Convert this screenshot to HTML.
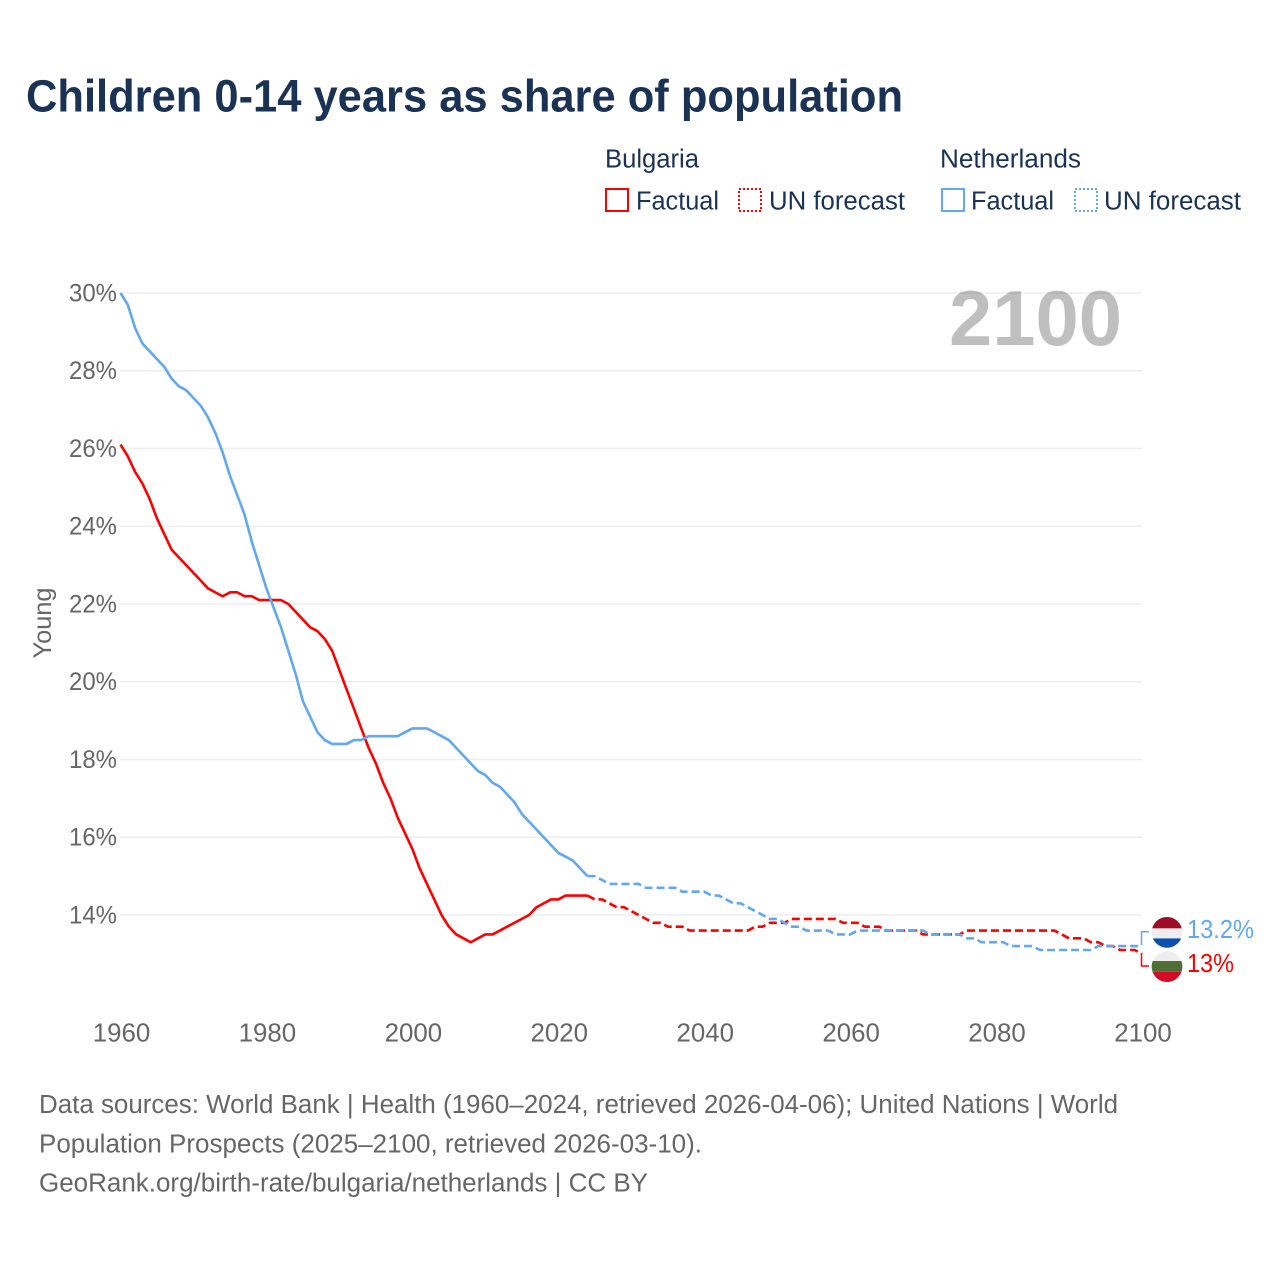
<!DOCTYPE html>
<html lang="en">
<head>
<meta charset="utf-8">
<title>Children 0-14 years as share of population</title>
<style>
html,body{margin:0;padding:0;background:#fff;width:1280px;height:1280px;overflow:hidden}
svg{display:block}
text{font-family:"Liberation Sans",sans-serif}
</style>
</head>
<body>
<svg id="chart" xmlns="http://www.w3.org/2000/svg" width="1280" height="1280" viewBox="0 0 1280 1280">
  <defs>
    <clipPath id="clip-nl"><circle cx="1167" cy="932.4" r="15.4"/></clipPath>
    <clipPath id="clip-bg"><circle cx="1167" cy="966.6" r="15.4"/></clipPath>
  </defs>
  <rect x="0" y="0" width="1280" height="1280" fill="#ffffff"/>
  <text x="26" y="111.5" font-size="45.5" font-weight="700" fill="#1a3254" textLength="877" lengthAdjust="spacingAndGlyphs">Children 0-14 years as share of population</text>

  <g>
    <text x="605" y="167.5" font-size="25.5" fill="#1a3254" textLength="94" lengthAdjust="spacingAndGlyphs">Bulgaria</text>
    <text x="940" y="167.5" font-size="25.5" fill="#1a3254" textLength="141" lengthAdjust="spacingAndGlyphs">Netherlands</text>
    <rect x="606" y="189" width="22" height="22" fill="none" stroke="#ff0000" stroke-width="2"/>
    <text x="636" y="209.5" font-size="25.5" fill="#1a3254" textLength="83" lengthAdjust="spacingAndGlyphs">Factual</text>
    <rect x="739" y="189" width="22" height="22" fill="none" stroke="#ff0000" stroke-width="2" stroke-dasharray="2 2"/>
    <text x="769" y="209.5" font-size="25.5" fill="#1a3254" textLength="136" lengthAdjust="spacingAndGlyphs">UN forecast</text>
    <rect x="942" y="189" width="22" height="22" fill="none" stroke="#62a8ee" stroke-width="2"/>
    <text x="971" y="209.5" font-size="25.5" fill="#1a3254" textLength="83" lengthAdjust="spacingAndGlyphs">Factual</text>
    <rect x="1075" y="189" width="22" height="22" fill="none" stroke="#62a8ee" stroke-width="2" stroke-dasharray="2 2"/>
    <text x="1104" y="209.5" font-size="25.5" fill="#1a3254" textLength="137" lengthAdjust="spacingAndGlyphs">UN forecast</text>
  </g>

  <g id="grid"></g>
  <g id="y-ticks"></g>
  <g id="x-ticks"></g>
  <text transform="translate(51,623) rotate(-90)" text-anchor="middle" font-size="25" fill="#666666" textLength="71" lengthAdjust="spacingAndGlyphs">Young</text>
  <text x="1122" y="345" text-anchor="end" font-size="78" font-weight="700" fill="#000000" fill-opacity="0.25" textLength="173" lengthAdjust="spacingAndGlyphs">2100</text>
  <g id="series"></g>

  <g>
    <path d="M1141.5 945V931.7H1149" fill="none" stroke="#62a8ee" stroke-width="1.5"/>
    <path d="M1141.5 953V966H1149" fill="none" stroke="#ff0000" stroke-width="1.5"/>
    <g clip-path="url(#clip-nl)">
      <rect x="1150" y="916" width="34" height="12.4" fill="#9e0b24"/>
      <rect x="1150" y="928.4" width="34" height="10" fill="#eeeeee"/>
      <rect x="1150" y="938.4" width="34" height="11" fill="#0a50ae"/>
    </g>
    <g clip-path="url(#clip-bg)">
      <rect x="1150" y="950" width="34" height="11" fill="#eeeeee"/>
      <rect x="1150" y="961" width="34" height="10.8" fill="#4f6e33"/>
      <rect x="1150" y="971.8" width="34" height="12" fill="#d30a26"/>
    </g>
    <text x="1187" y="938" font-size="25.5" fill="#62a8ee" textLength="67" lengthAdjust="spacingAndGlyphs">13.2%</text>
    <text x="1187" y="972" font-size="25.5" fill="#ff0000" textLength="47" lengthAdjust="spacingAndGlyphs">13%</text>
  </g>

  <g>
    <text x="39" y="1113" font-size="25.5" fill="#666666" textLength="1079" lengthAdjust="spacingAndGlyphs">Data sources: World Bank | Health (1960–2024, retrieved 2026-04-06); United Nations | World</text>
    <text x="39" y="1152.5" font-size="25.5" fill="#666666" textLength="663" lengthAdjust="spacingAndGlyphs">Population Prospects (2025–2100, retrieved 2026-03-10).</text>
    <text x="39" y="1191.5" font-size="25.5" fill="#666666" textLength="609" lengthAdjust="spacingAndGlyphs">GeoRank.org/birth-rate/bulgaria/netherlands | CC BY</text>
  </g>
</svg>
<script>
const years = [
  1960,1961,1962,1963,1964,1965,1966,1967,1968,1969,
  1970,1971,1972,1973,1974,1975,1976,1977,1978,1979,
  1980,1981,1982,1983,1984,1985,1986,1987,1988,1989,
  1990,1991,1992,1993,1994,1995,1996,1997,1998,1999,
  2000,2001,2002,2003,2004,2005,2006,2007,2008,2009,
  2010,2011,2012,2013,2014,2015,2016,2017,2018,2019,
  2020,2021,2022,2023,2024,2025,2026,2027,2028,2029,
  2030,2031,2032,2033,2034,2035,2036,2037,2038,2039,
  2040,2041,2042,2043,2044,2045,2046,2047,2048,2049,
  2050,2051,2052,2053,2054,2055,2056,2057,2058,2059,
  2060,2061,2062,2063,2064,2065,2066,2067,2068,2069,
  2070,2071,2072,2073,2074,2075,2076,2077,2078,2079,
  2080,2081,2082,2083,2084,2085,2086,2087,2088,2089,
  2090,2091,2092,2093,2094,2095,2096,2097,2098,2099,
  2100
];
const bulgariaValues = [
  26.1,25.8,25.4,25.1,24.7,24.2,23.8,23.4,23.2,23.0,
  22.8,22.6,22.4,22.3,22.2,22.3,22.3,22.2,22.2,22.1,
  22.1,22.1,22.1,22.0,21.8,21.6,21.4,21.3,21.1,20.8,
  20.3,19.8,19.3,18.8,18.3,17.9,17.4,17.0,16.5,16.1,
  15.7,15.2,14.8,14.4,14.0,13.7,13.5,13.4,13.3,13.4,
  13.5,13.5,13.6,13.7,13.8,13.9,14.0,14.2,14.3,14.4,
  14.4,14.5,14.5,14.5,14.5,14.4,14.4,14.3,14.2,14.2,
  14.1,14.0,13.9,13.8,13.8,13.7,13.7,13.7,13.6,13.6,
  13.6,13.6,13.6,13.6,13.6,13.6,13.6,13.7,13.7,13.8,
  13.8,13.8,13.9,13.9,13.9,13.9,13.9,13.9,13.9,13.8,
  13.8,13.8,13.7,13.7,13.7,13.6,13.6,13.6,13.6,13.6,
  13.5,13.5,13.5,13.5,13.5,13.5,13.6,13.6,13.6,13.6,
  13.6,13.6,13.6,13.6,13.6,13.6,13.6,13.6,13.6,13.5,
  13.4,13.4,13.4,13.3,13.3,13.2,13.2,13.1,13.1,13.1,
  13.0
];
const netherlandsValues = [
  30.0,29.7,29.1,28.7,28.5,28.3,28.1,27.8,27.6,27.5,
  27.3,27.1,26.8,26.4,25.9,25.3,24.8,24.3,23.6,23.0,
  22.4,21.9,21.4,20.8,20.2,19.5,19.1,18.7,18.5,18.4,
  18.4,18.4,18.5,18.5,18.6,18.6,18.6,18.6,18.6,18.7,
  18.8,18.8,18.8,18.7,18.6,18.5,18.3,18.1,17.9,17.7,
  17.6,17.4,17.3,17.1,16.9,16.6,16.4,16.2,16.0,15.8,
  15.6,15.5,15.4,15.2,15.0,15.0,14.9,14.8,14.8,14.8,
  14.8,14.8,14.7,14.7,14.7,14.7,14.7,14.6,14.6,14.6,
  14.6,14.5,14.5,14.4,14.3,14.3,14.2,14.1,14.0,13.9,
  13.9,13.8,13.7,13.7,13.6,13.6,13.6,13.6,13.5,13.5,
  13.5,13.6,13.6,13.6,13.6,13.6,13.6,13.6,13.6,13.6,
  13.6,13.5,13.5,13.5,13.5,13.5,13.4,13.4,13.3,13.3,
  13.3,13.3,13.2,13.2,13.2,13.2,13.1,13.1,13.1,13.1,
  13.1,13.1,13.1,13.1,13.2,13.2,13.2,13.2,13.2,13.2,
  13.2
];
const lastFactualYear = 2024;
const yTickValues = [14,16,18,20,22,24,26,28,30];
const yTickLabels = ["14%","16%","18%","20%","22%","24%","26%","28%","30%"];
const xTickValues = [1960,1980,2000,2020,2040,2060,2080,2100];
const xTickLabels = ["1960","1980","2000","2020","2040","2060","2080","2100"];

const NS = 'http://www.w3.org/2000/svg';
function xScale(year) { return 120.5 + (year - 1960) * (1142 - 120.5) / 140; }
function yScale(value) { return 915 - (value - 14) * (915 - 293) / 16; }

function linePath(values, from, to) {
  const pts = [];
  years.forEach(function (year, i) {
    if (year >= from && year <= to) {
      pts.push((pts.length ? 'L' : 'M') + xScale(year).toFixed(2) + ' ' + yScale(values[i]).toFixed(2));
    }
  });
  return pts.join('');
}

const grid = document.getElementById('grid');
const yTicks = document.getElementById('y-ticks');
const xTicks = document.getElementById('x-ticks');
const seriesGroup = document.getElementById('series');

yTickValues.forEach(function (value, i) {
  const line = document.createElementNS(NS, 'line');
  
  
  line.setAttribute('x1', 120);
  line.setAttribute('x2', 1142);
  line.setAttribute('y1', yScale(value));
  line.setAttribute('y2', yScale(value));
  line.setAttribute('stroke', '#eeeeee');
  line.setAttribute('stroke-width', '1.6');
  grid.appendChild(line);

  const label = document.createElementNS(NS, 'text');
  
  
  label.setAttribute('x', 117);
  label.setAttribute('y', yScale(value) + 8.3);
  label.setAttribute('text-anchor', 'end');
  label.setAttribute('font-size', '25');
  label.setAttribute('fill', '#666666');
  label.setAttribute('textLength', '48');
  label.setAttribute('lengthAdjust', 'spacingAndGlyphs');
  label.textContent = yTickLabels[i];
  yTicks.appendChild(label);
});

xTickValues.forEach(function (year, i) {
  const label = document.createElementNS(NS, 'text');
  
  
  label.setAttribute('x', xScale(year) + 1);
  label.setAttribute('y', 1041.7);
  label.setAttribute('text-anchor', 'middle');
  label.setAttribute('font-size', '25.5');
  label.setAttribute('fill', '#666666');
  label.setAttribute('textLength', '57.5');
  label.setAttribute('lengthAdjust', 'spacingAndGlyphs');
  label.textContent = xTickLabels[i];
  xTicks.appendChild(label);
});

function drawSeries(values, color, key) {
  const factual = document.createElementNS(NS, 'path');
  
  
  factual.setAttribute('d', linePath(values, years[0], lastFactualYear));
  factual.setAttribute('fill', 'none');
  factual.setAttribute('stroke', color);
  factual.setAttribute('stroke-width', '2.6');
  factual.setAttribute('stroke-linejoin', 'round');
  seriesGroup.appendChild(factual);

  const forecast = document.createElementNS(NS, 'path');
  
  
  forecast.setAttribute('d', linePath(values, lastFactualYear, years[years.length - 1]));
  forecast.setAttribute('fill', 'none');
  forecast.setAttribute('stroke', color);
  forecast.setAttribute('stroke-width', '2.6');
  forecast.setAttribute('stroke-dasharray', '8 4');
  forecast.setAttribute('stroke-linejoin', 'round');
  seriesGroup.appendChild(forecast);
}

drawSeries(bulgariaValues, '#ff0000', 'bulgaria');
drawSeries(netherlandsValues, '#62a8ee', 'netherlands');
</script>
</body>
</html>
